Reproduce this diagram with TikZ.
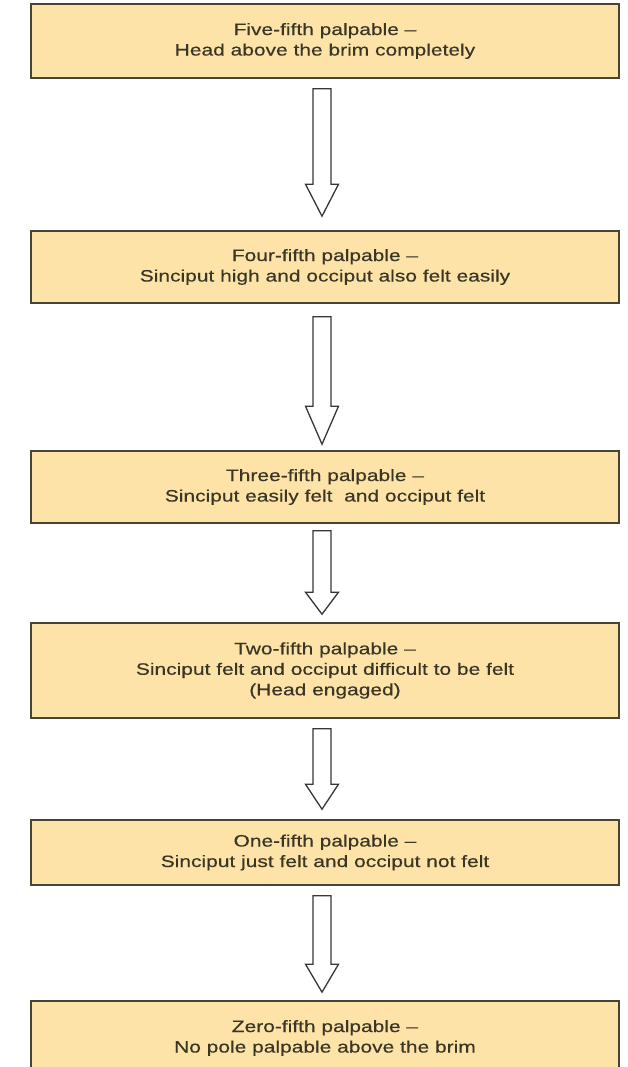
\documentclass[tikz,border=0pt]{standalone}
\usepackage{fontspec}
\usepackage{xcolor}
\usepackage{tikz}
\usetikzlibrary{calc, positioning}
\newfontfamily\stagefont[FakeStretch=1.27, FakeBold=0.4]{Liberation Sans}
\definecolor{PalpFill}{RGB}{253, 227, 168}
\definecolor{PalpBorder}{RGB}{72, 68, 52}
\definecolor{PalpText}{RGB}{58, 54, 38}
\definecolor{PalpArrow}{RGB}{55, 55, 55}

\tikzset{
  stagebox/.style={draw=PalpBorder, fill=PalpFill, line width=1.6pt, minimum width=588pt,
    align=center, text=PalpText, inner sep=0pt,
    font=\stagefont\fontsize{16.5}{20.5}\selectfont},
  blockarrow/.style={draw=PalpArrow, fill=white, line width=1.3pt, line join=miter}
}

\begin{document}
\begin{tikzpicture}[x=1pt,y=-1pt]
  \path[use as bounding box] (0,0) rectangle (628,1067);
  \clip (0,0) rectangle (628,1067);

  % Stage boxes
  \foreach \n/\yc/\h/\txt in {
    b1/41/74/{Five-fifth palpable –\\Head above the brim completely},
    b2/267/72/{Four-fifth palpable –\\Sinciput high and occiput also felt easily},
    b3/487/72/{Three-fifth palpable –\\Sinciput easily felt \ and occiput felt},
    b4/670.5/95/{Two-fifth palpable –\\Sinciput felt and occiput difficult to be felt\\(Head engaged)},
    b5/852.5/65/{One-fifth palpable –\\Sinciput just felt and occiput not felt},
    b6/1038/74/{Zero-fifth palpable –\\No pole palpable above the brim}}{
    \node[stagebox, minimum height=\h pt] (\n) at (325,\yc) {\txt};
  }

  % Hollow arrows between stages
  \foreach \a/\b/\gt/\gb/\hl in {
    b1/b2/10/14/32,
    b2/b3/13/6/38,
    b3/b4/7/8/22,
    b4/b5/10/10/25,
    b5/b6/10/8/28}{
    \draw[blockarrow] let \p1=($(\a.south)+(-3pt,-\gt pt)$), \p2=($(\b.north)+(-3pt,\gb pt)$) in
      (\x1-9pt,\y1) -- (\x1+9pt,\y1) -- (\x1+9pt,\y2+\hl pt) -- (\x1+16.5pt,\y2+\hl pt)
      -- (\x1,\y2) -- (\x1-16.5pt,\y2+\hl pt) -- (\x1-9pt,\y2+\hl pt) -- cycle;
  }
\end{tikzpicture}
\end{document}
